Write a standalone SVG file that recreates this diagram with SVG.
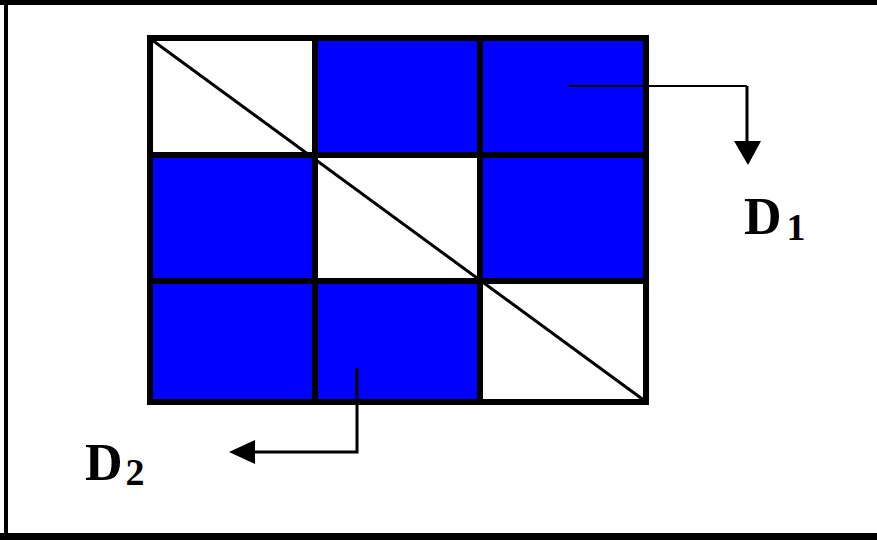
<svg xmlns="http://www.w3.org/2000/svg" width="877" height="540" viewBox="0 0 877 540">
<style>
.blue{fill:#0000FF}
.white{fill:#FFFFFF}
.grid{fill:none;stroke:#000;stroke-width:6;stroke-linecap:square}
.diag{stroke:#000;stroke-width:3}
.conn{fill:none;stroke:#000;stroke-width:3}
.thin{stroke-width:2}
.head{fill:#000}
.lbl{font-family:"Liberation Serif","Times New Roman",serif;font-weight:bold;fill:#000}
</style>
<rect x="0" y="0" width="877" height="540" fill="#fff"/>
<g id="frame">
<rect x="0" y="0" width="877" height="5" fill="#000"/>
<rect x="4" y="0" width="4" height="540" fill="#000"/>
<rect x="0" y="533" width="877" height="7" fill="#000"/>
</g>
<g id="cell-1-1"><rect class="white" x="150" y="38" width="165" height="117"/></g>
<g id="cell-1-2"><rect class="blue" x="315" y="38" width="165" height="117"/></g>
<g id="cell-1-3"><rect class="blue" x="480" y="38" width="166" height="117"/></g>
<g id="cell-2-1"><rect class="blue" x="150" y="155" width="165" height="126"/></g>
<g id="cell-2-2"><rect class="white" x="315" y="155" width="165" height="126"/></g>
<g id="cell-2-3"><rect class="blue" x="480" y="155" width="166" height="126"/></g>
<g id="cell-3-1"><rect class="blue" x="150" y="281" width="165" height="121"/></g>
<g id="cell-3-2"><rect class="blue" x="315" y="281" width="165" height="121"/></g>
<g id="cell-3-3"><rect class="white" x="480" y="281" width="166" height="121"/></g>
<g id="grid">
<rect class="grid" x="150" y="38" width="496" height="364"/>
<line class="grid" x1="315" y1="38" x2="315" y2="402"/>
<line class="grid" x1="480" y1="38" x2="480" y2="402"/>
<line class="grid" x1="150" y1="155" x2="646" y2="155"/>
<line class="grid" x1="150" y1="281" x2="646" y2="281"/>
<line class="diag" x1="152" y1="40" x2="645" y2="401"/>
</g>
<g id="connectors">
<polyline class="conn thin" points="568,86 747,86"/>
<polyline class="conn" points="747,86 747,146"/>
<polygon class="head" points="734,141 761,141 748,165"/>
<polyline class="conn" points="357,368 357,452 252,452"/>
<polygon class="head" points="229,452 255,440 255,464"/>
</g>
<g id="label-D1">
<text class="lbl" x="744" y="234" font-size="52">D<tspan font-size="38" dx="5" dy="6">1</tspan></text>
</g>
<g id="label-D2">
<text class="lbl" x="85" y="480" font-size="52">D<tspan font-size="38" dx="3" dy="5">2</tspan></text>
</g>
</svg>
